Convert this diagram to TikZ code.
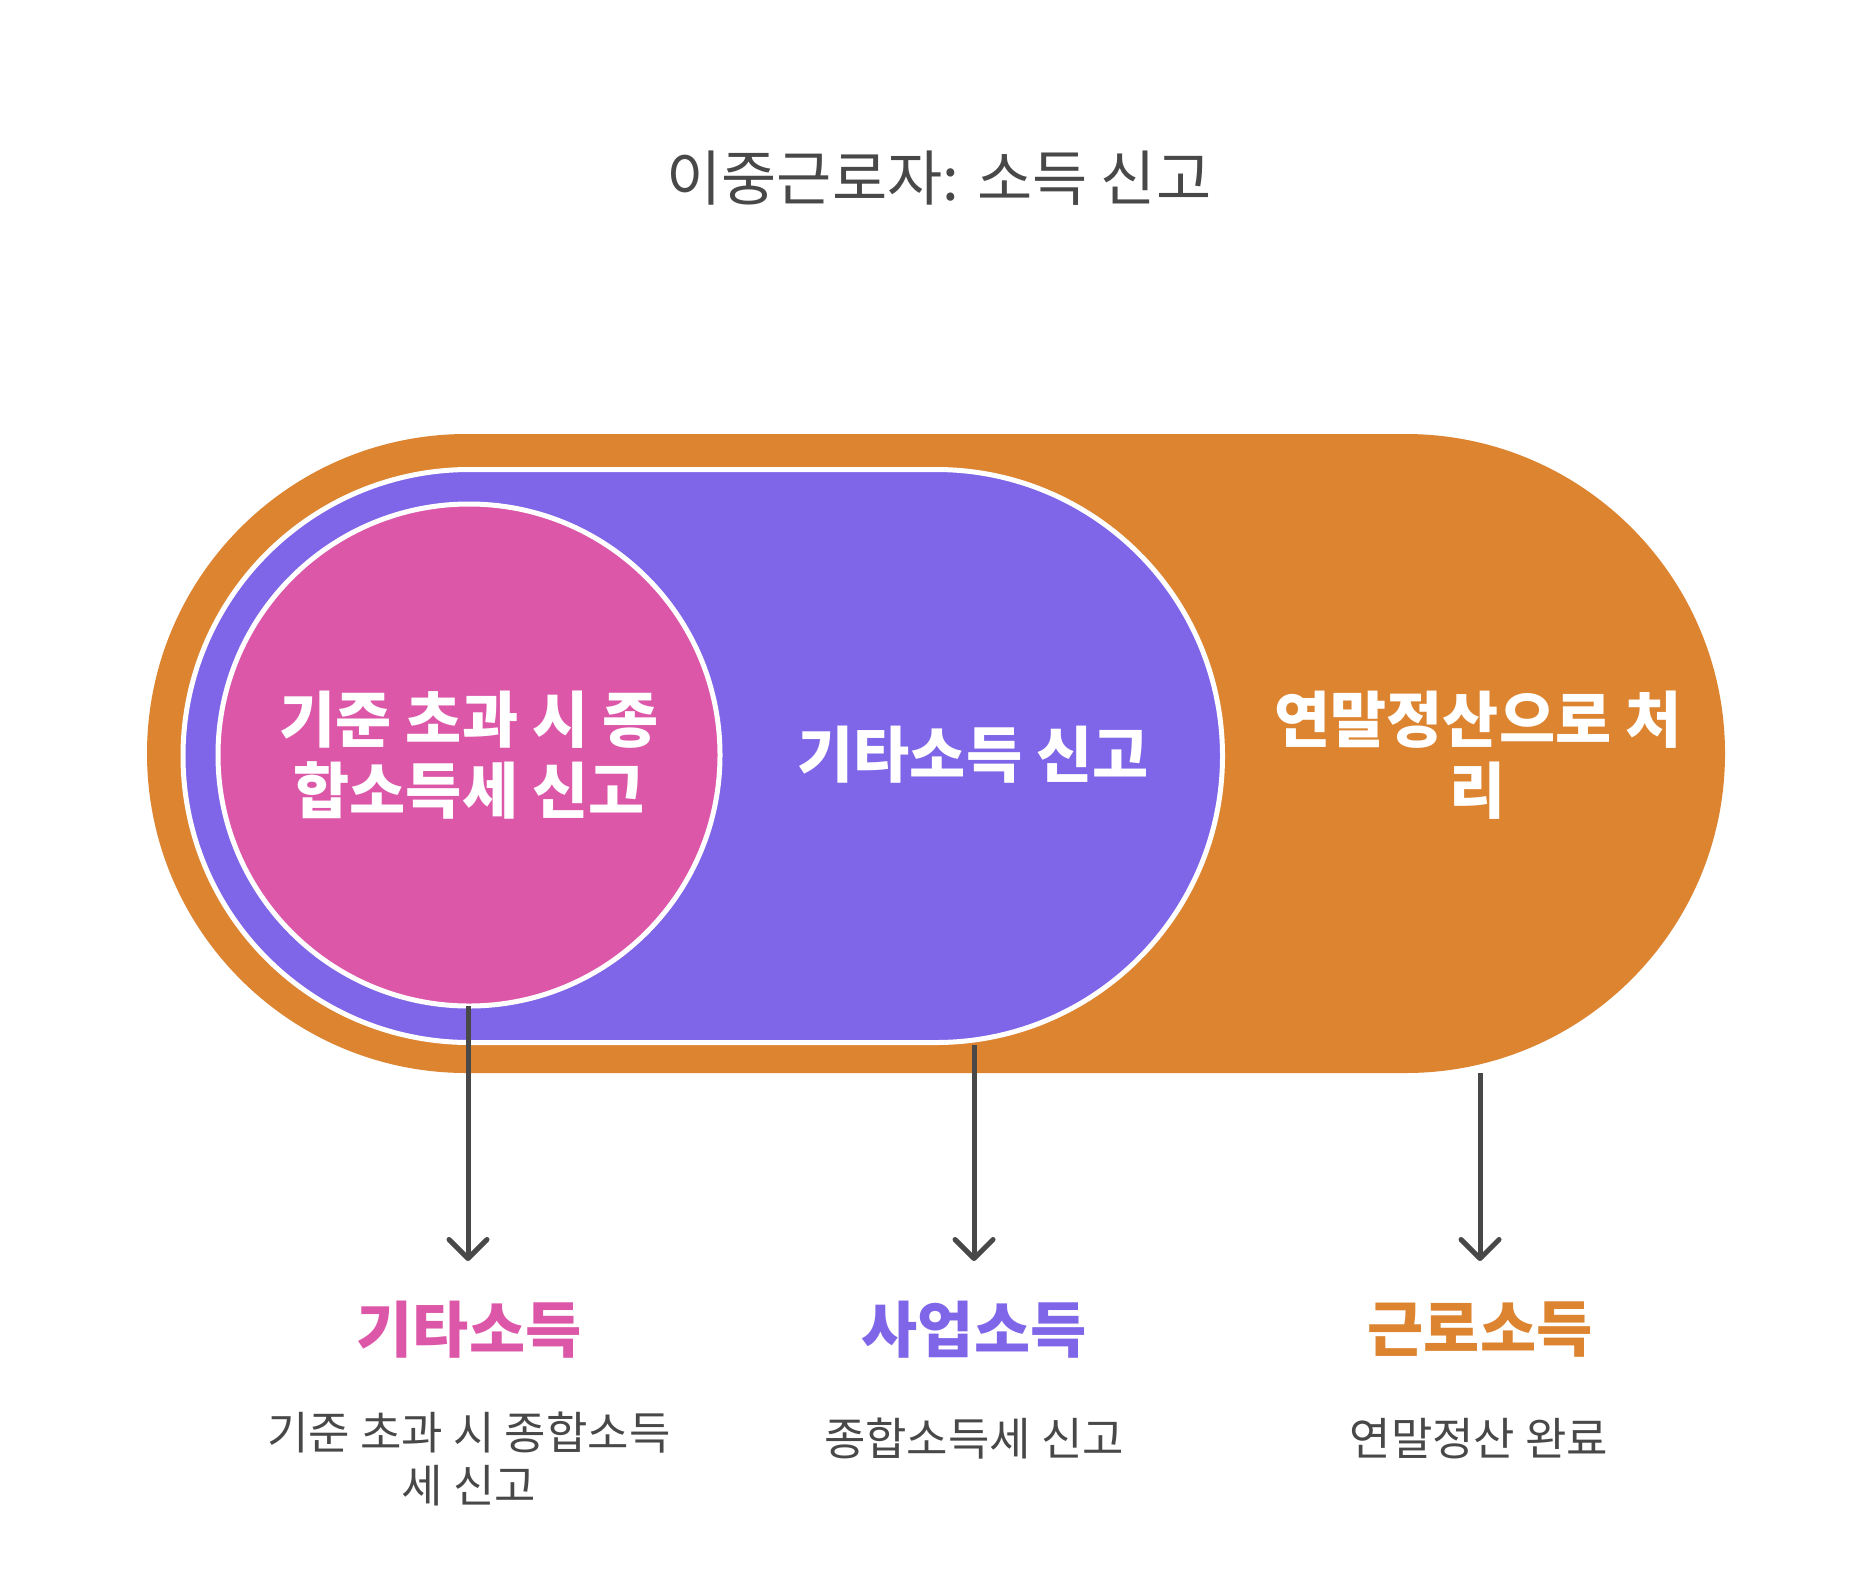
\documentclass[tikz,border=0pt]{standalone}
\usepackage{fontspec}
\usetikzlibrary{arrows.meta}
\newfontfamily\krfont{Noto Sans CJK KR}
\newfontfamily\krbold{Noto Sans CJK KR}
\definecolor{orng}{HTML}{DD8431}
\definecolor{purp}{HTML}{7F66E8}
\definecolor{pinkc}{HTML}{DD57A8}
\definecolor{gtxt}{HTML}{484848}
\tikzset{
  titlef/.style={font=\krfont\fontsize{30}{36}\selectfont, text=gtxt, inner sep=0pt},
  innerf/.style={font=\krbold\bfseries\fontsize{30.5}{35.5}\selectfont, text=white, align=center, inner sep=0pt},
  headf/.style={font=\krbold\bfseries\fontsize{30.5}{35}\selectfont, inner sep=0pt},
  subf/.style={font=\krfont\fontsize{22.5}{26.5}\selectfont, text=gtxt, align=center, inner sep=0pt},
  conn/.style={draw=gtxt, line width=2.5pt, -{Straight Barb[length=9.5pt,width=19pt,round]}},
  ringline/.style={draw=white, line width=2.5pt}
}
\begin{document}
\begin{tikzpicture}[x=0.5pt,y=-0.5pt]
\useasboundingbox (0,0) rectangle (1872,1585);
\fill[white] (0,0) rectangle (1872,1585);
% shapes
\fill[orng, rounded corners=159.75pt] (147,434) rectangle (1725,1073);
\filldraw[fill=purp, ringline, rounded corners=143.25pt] (183,469.5) rectangle (1222.5,1042.5);
\filldraw[fill=pinkc, ringline] (469,755) circle[radius=125.5pt];
% title
\node[titlef] (title) at (939,178) {이중근로자: 소득 신고};
% inner labels
\node[innerf] (t1) at (469,755.5) {기준 초과 시 종\\합소득세 신고};
\node[innerf] (t2) at (973,755) {기타소득 신고};
\node[innerf] (t3) at (1478,755.5) {연말정산으로 처\\리};
% connector ends
\coordinate (s1) at (468,1006);
\coordinate (s2) at (974,1045);
\coordinate (s3) at (1480,1073);
\coordinate (e1) at (468,1261);
\coordinate (e2) at (974,1261);
\coordinate (e3) at (1480,1261);
\draw[conn] (s1) -- (e1);
\draw[conn] (s2) -- (e2);
\draw[conn] (s3) -- (e3);
% headings
\node[headf, text=pinkc] (h1) at (469,1330) {기타소득};
\node[headf, text=purp] (h2) at (974,1330) {사업소득};
\node[headf, text=orng] (h3) at (1480,1330) {근로소득};
% descriptions
\node[subf] (d1) at (469,1458.5) {기준 초과 시 종합소득\\세 신고};
\node[subf] (d2) at (974,1439) {종합소득세 신고};
\node[subf] (d3) at (1479,1439) {연말정산 완료};
\end{tikzpicture}
\end{document}
